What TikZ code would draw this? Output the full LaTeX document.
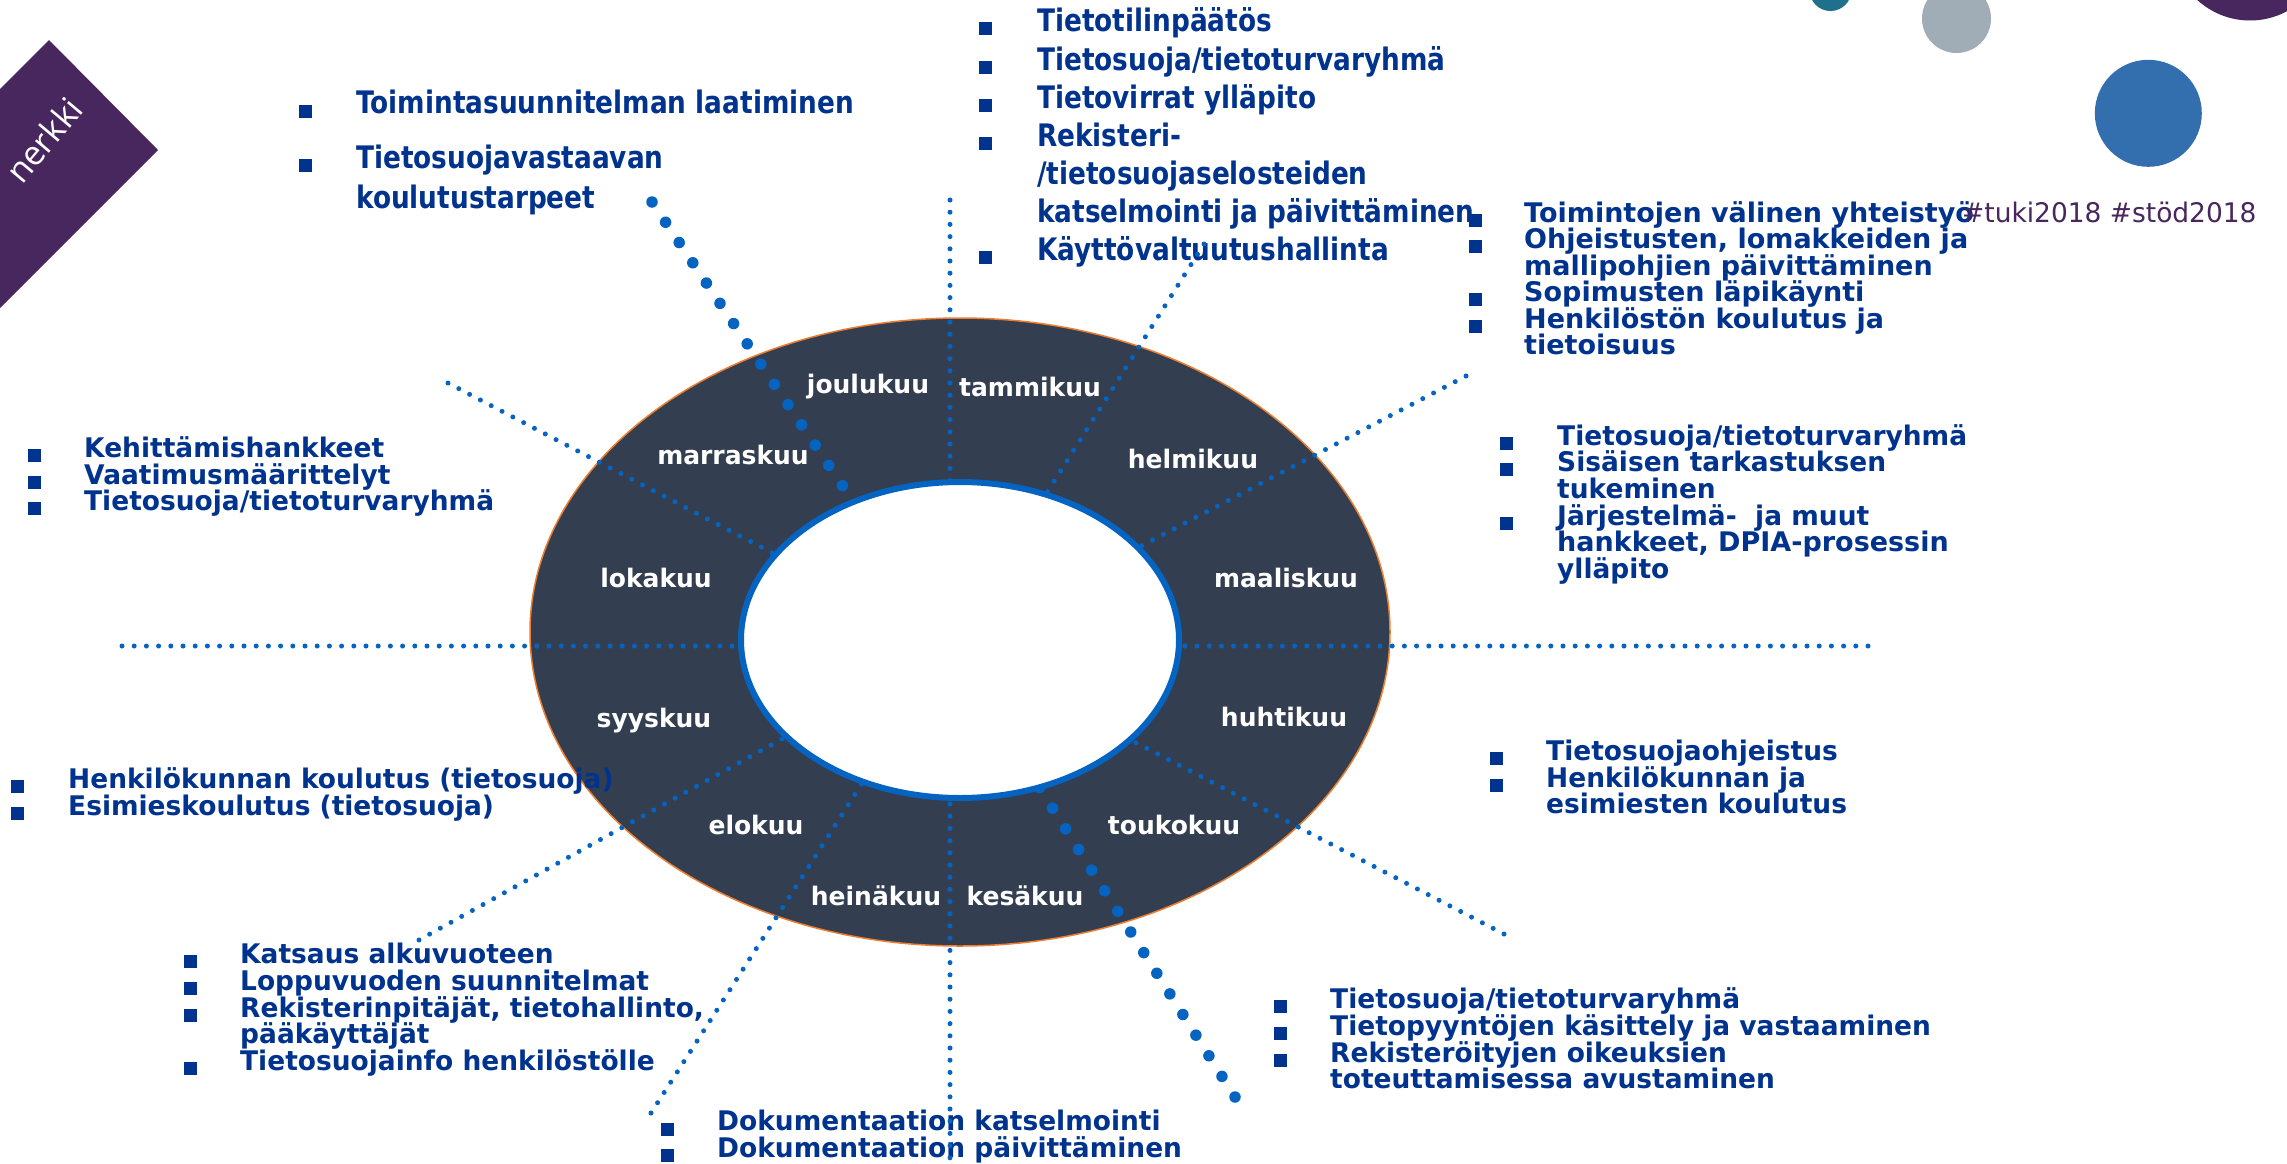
\documentclass[tikz,border=0pt]{standalone}
\usepackage{fontspec}
\newfontfamily\wideface[FakeStretch=0.85]{DejaVu Sans}
\newfontfamily\listface[FakeStretch=0.98]{DejaVu Sans}
\newfontfamily\roomyface[FakeStretch=1.0]{DejaVu Sans}
\newfontfamily\labelface{Open Sans}

\definecolor{ringfill}{HTML}{333F50}
\definecolor{ringedge}{HTML}{ED7D31}
\definecolor{dotblue}{HTML}{0563C1}
\definecolor{textnavy}{HTML}{00338D}
\definecolor{plum}{HTML}{48265E}
\definecolor{greydot}{HTML}{A0ADB7}
\definecolor{bluedot}{HTML}{336EAF}
\definecolor{tealdot}{HTML}{1F708C}

\begin{document}
\begin{tikzpicture}[x=1pt,y=-1pt,
  listbig/.style={anchor=base west, inner sep=0pt, text=textnavy,
    font=\wideface\bfseries\fontsize{31}{38}\selectfont},
  listsmall/.style={anchor=base west, inner sep=0pt, text=textnavy,
    font=\listface\bfseries\fontsize{27}{27}\selectfont},
  listroomy/.style={anchor=base west, inner sep=0pt, text=textnavy,
    font=\roomyface\bfseries\fontsize{27}{27}\selectfont},
  bulletsq/.style={fill=textnavy, inner sep=0pt, minimum width=13pt, minimum height=13pt},
  monthlbl/.style={anchor=base, inner sep=0pt, text=white,
    font=\listface\bfseries\fontsize{25.5}{26}\selectfont},
  finedots/.style={dotblue, line width=5pt, line cap=round, dash pattern=on 0pt off 12.2pt},
  coarsedots/.style={dotblue, line width=11.5pt, line cap=round, dash pattern=on 0pt off 24.4pt},
]
\useasboundingbox (0,0) rectangle (2287,1163);
\clip (0,0) rectangle (2287,1163);
\fill[white] (0,0) rectangle (2287,1163);

% decorative shapes in the corners
\fill[plum] (49,40) -- (158,150) -- (-100,408) -- (-209,298) -- cycle;
\node[rotate=50, text=white, inner sep=0pt, font=\labelface\fontsize{34}{34}\selectfont] (tag) at (44,140) {nerkki};
\fill[tealdot] (1830.5,-10) circle [radius=21pt];
\fill[greydot] (1956.5,18.5) circle [radius=34.5pt];
\fill[plum] (2250,-57.5) circle [radius=78pt];
\fill[bluedot] (2148.3,113.3) circle [radius=53.5pt];

% the year ring
\filldraw[fill=ringfill, draw=ringedge, line width=1.5pt] (960,632) ellipse [x radius=430pt, y radius=314pt];

% months
\node[monthlbl] (m01) at (1030,396) {tammikuu};
\node[monthlbl] (m02) at (1193,468) {helmikuu};
\node[monthlbl] (m03) at (1286,587) {maaliskuu};
\node[monthlbl] (m04) at (1284,726) {huhtikuu};
\node[monthlbl] (m05) at (1174,834) {toukokuu};
\node[monthlbl] (m06) at (1025,905) {kesäkuu};
\node[monthlbl] (m07) at (876,905) {heinäkuu};
\node[monthlbl] (m08) at (756,834) {elokuu};
\node[monthlbl] (m09) at (654,727) {syyskuu};
\node[monthlbl] (m10) at (656,587) {lokakuu};
\node[monthlbl] (m11) at (733,464) {marraskuu};
\node[monthlbl] (m12) at (868,393) {joulukuu};

% top left
\node[bulletsq] (tlb1) at (305.5,111) {};
\node[bulletsq] (tlb2) at (305.5,165) {};
\node[listbig] (tl1) at (356,113) {Toimintasuunnitelman laatiminen};
\node[listbig] (tl2) at (356,168) {Tietosuojavastaavan};
\node[listbig] (tl3) at (356,208) {koulutustarpeet};

% top centre
\node[bulletsq] (tcb1) at (985.5,28) {};
\node[bulletsq] (tcb2) at (985.5,67) {};
\node[bulletsq] (tcb3) at (985.5,105) {};
\node[bulletsq] (tcb4) at (985.5,143) {};
\node[bulletsq] (tcb5) at (985.5,257) {};
\node[listbig] (tc1) at (1037,31) {Tietotilinpäätös};
\node[listbig] (tc2) at (1037,70) {Tietosuoja/tietoturvaryhmä};
\node[listbig] (tc3) at (1037,108) {Tietovirrat ylläpito};
\node[listbig] (tc4) at (1037,146) {Rekisteri-};
\node[listbig] (tc5) at (1037,184) {/tietosuojaselosteiden};
\node[listbig] (tc6) at (1037,222) {katselmointi ja päivittäminen};
\node[listbig] (tc7) at (1037,260) {Käyttövaltuutushallinta};

% top right
\node[bulletsq] (trb1) at (1475.5,220) {};
\node[bulletsq] (trb2) at (1475.5,246.5) {};
\node[bulletsq] (trb3) at (1475.5,299.5) {};
\node[bulletsq] (trb4) at (1475.5,326) {};
\node[listroomy] (tr1) at (1524,222) {Toimintojen välinen yhteistyö};
\node[listroomy] (tr2) at (1524,248.5) {Ohjeistusten,\ lomakkeiden\ ja};
\node[listroomy] (tr3) at (1524,275) {mallipohjien\ päivittäminen};
\node[listroomy] (tr4) at (1524,301.5) {Sopimusten läpikäynti};
\node[listroomy] (tr5) at (1524,328) {Henkilöstön\ koulutus\ ja};
\node[listroomy] (tr6) at (1524,354.5) {tietoisuus};
\node[anchor=base west, inner sep=0pt, text=plum,
  font=\listface\fontsize{27}{27}\selectfont] (tags) at (1962,222) {\#tuki2018 \#stöd2018};

% right
\node[bulletsq] (rmb1) at (1506.5,443) {};
\node[bulletsq] (rmb2) at (1506.5,469.7) {};
\node[bulletsq] (rmb3) at (1506.5,523) {};
\node[listsmall] (rm1) at (1557,445) {Tietosuoja/tietoturvaryhmä};
\node[listsmall] (rm2) at (1557,471.7) {Sisäisen tarkastuksen};
\node[listsmall] (rm3) at (1557,498.4) {tukeminen};
\node[listsmall] (rm4) at (1557,525) {Järjestelmä-\ \ ja\ muut};
\node[listroomy] (rm5) at (1557,551.8) {hankkeet, DPIA-prosessin};
\node[listsmall] (rm6) at (1557,578.5) {ylläpito};

\node[bulletsq] (rlb1) at (1496.5,758) {};
\node[bulletsq] (rlb2) at (1496.5,785) {};
\node[listsmall] (rl1) at (1546,760) {Tietosuojaohjeistus};
\node[listsmall] (rl2) at (1546,787) {Henkilökunnan ja};
\node[listsmall] (rl3) at (1546,813) {esimiesten koulutus};

% left
\node[bulletsq] (lb1) at (34,455) {};
\node[bulletsq] (lb2) at (34,482) {};
\node[bulletsq] (lb3) at (34,508) {};
\node[listsmall] (l1) at (84,457) {Kehittämishankkeet};
\node[listsmall] (l2) at (84,484) {Vaatimusmäärittelyt};
\node[listsmall] (l3) at (84,510) {Tietosuoja/tietoturvaryhmä};

\node[bulletsq] (llb1) at (17.5,786) {};
\node[bulletsq] (llb2) at (17.5,813) {};
\node[listsmall] (ll1) at (68,788) {Henkilökunnan koulutus (tietosuoja)};
\node[listsmall] (ll2) at (68,815) {Esimieskoulutus (tietosuoja)};

% bottom
\node[bulletsq] (blb1) at (190.5,961) {};
\node[bulletsq] (blb2) at (190.5,988) {};
\node[bulletsq] (blb3) at (190.5,1015) {};
\node[bulletsq] (blb4) at (190.5,1068) {};
\node[listsmall] (bl1) at (240,963) {Katsaus alkuvuoteen};
\node[listsmall] (bl2) at (240,990) {Loppuvuoden suunnitelmat};
\node[listsmall] (bl3) at (240,1017) {Rekisterinpitäjät, tietohallinto,};
\node[listsmall] (bl4) at (240,1043) {pääkäyttäjät};
\node[listsmall] (bl5) at (240,1070) {Tietosuojainfo\ henkilöstölle};

\node[bulletsq] (bcb1) at (667,1129) {};
\node[bulletsq] (bcb2) at (667,1155) {};
\node[listsmall] (bc1) at (717,1130) {Dokumentaation katselmointi};
\node[listsmall] (bc2) at (717,1157) {Dokumentaation päivittäminen};

\node[bulletsq] (brb1) at (1280,1006) {};
\node[bulletsq] (brb2) at (1280,1033) {};
\node[bulletsq] (brb3) at (1280,1060) {};
\node[listsmall] (br1) at (1330,1008) {Tietosuoja/tietoturvaryhmä};
\node[listsmall] (br2) at (1330,1035) {Tietopyyntöjen käsittely ja vastaaminen};
\node[listsmall] (br3) at (1330,1062) {Rekisteröityjen oikeuksien};
\node[listsmall] (br4) at (1330,1088) {toteuttamisessa avustaminen};

% dotted spokes from the hub outwards
\coordinate (hub) at (950,646);
\coordinate (eN) at (950,200);
\coordinate (eS) at (950,1170);
\coordinate (eW) at (122,646);
\coordinate (eE) at (1868,646);
\coordinate (eNE1) at (1204,244);
\coordinate (eNE2) at (1466,376);
\coordinate (eSE1) at (1504,934);
\coordinate (eSE2) at (1235,1097);
\coordinate (eNW1) at (652,202);
\coordinate (eNW2) at (448,383);
\coordinate (eSW1) at (419,940);
\coordinate (eSW2) at (651,1113);
\foreach \e in {eN,eS,eW,eE,eNE1,eNE2,eSE1,eNW2,eSW1,eSW2}
  \draw[finedots] (\e) -- (hub);
\draw[coarsedots] (eNW1) -- (hub);
\draw[coarsedots] (eSE2) -- (hub);

% inner hole of the ring
\filldraw[fill=white, draw=dotblue, line width=6pt] (960,640) ellipse [x radius=219pt, y radius=158pt];
\end{tikzpicture}
\end{document}
